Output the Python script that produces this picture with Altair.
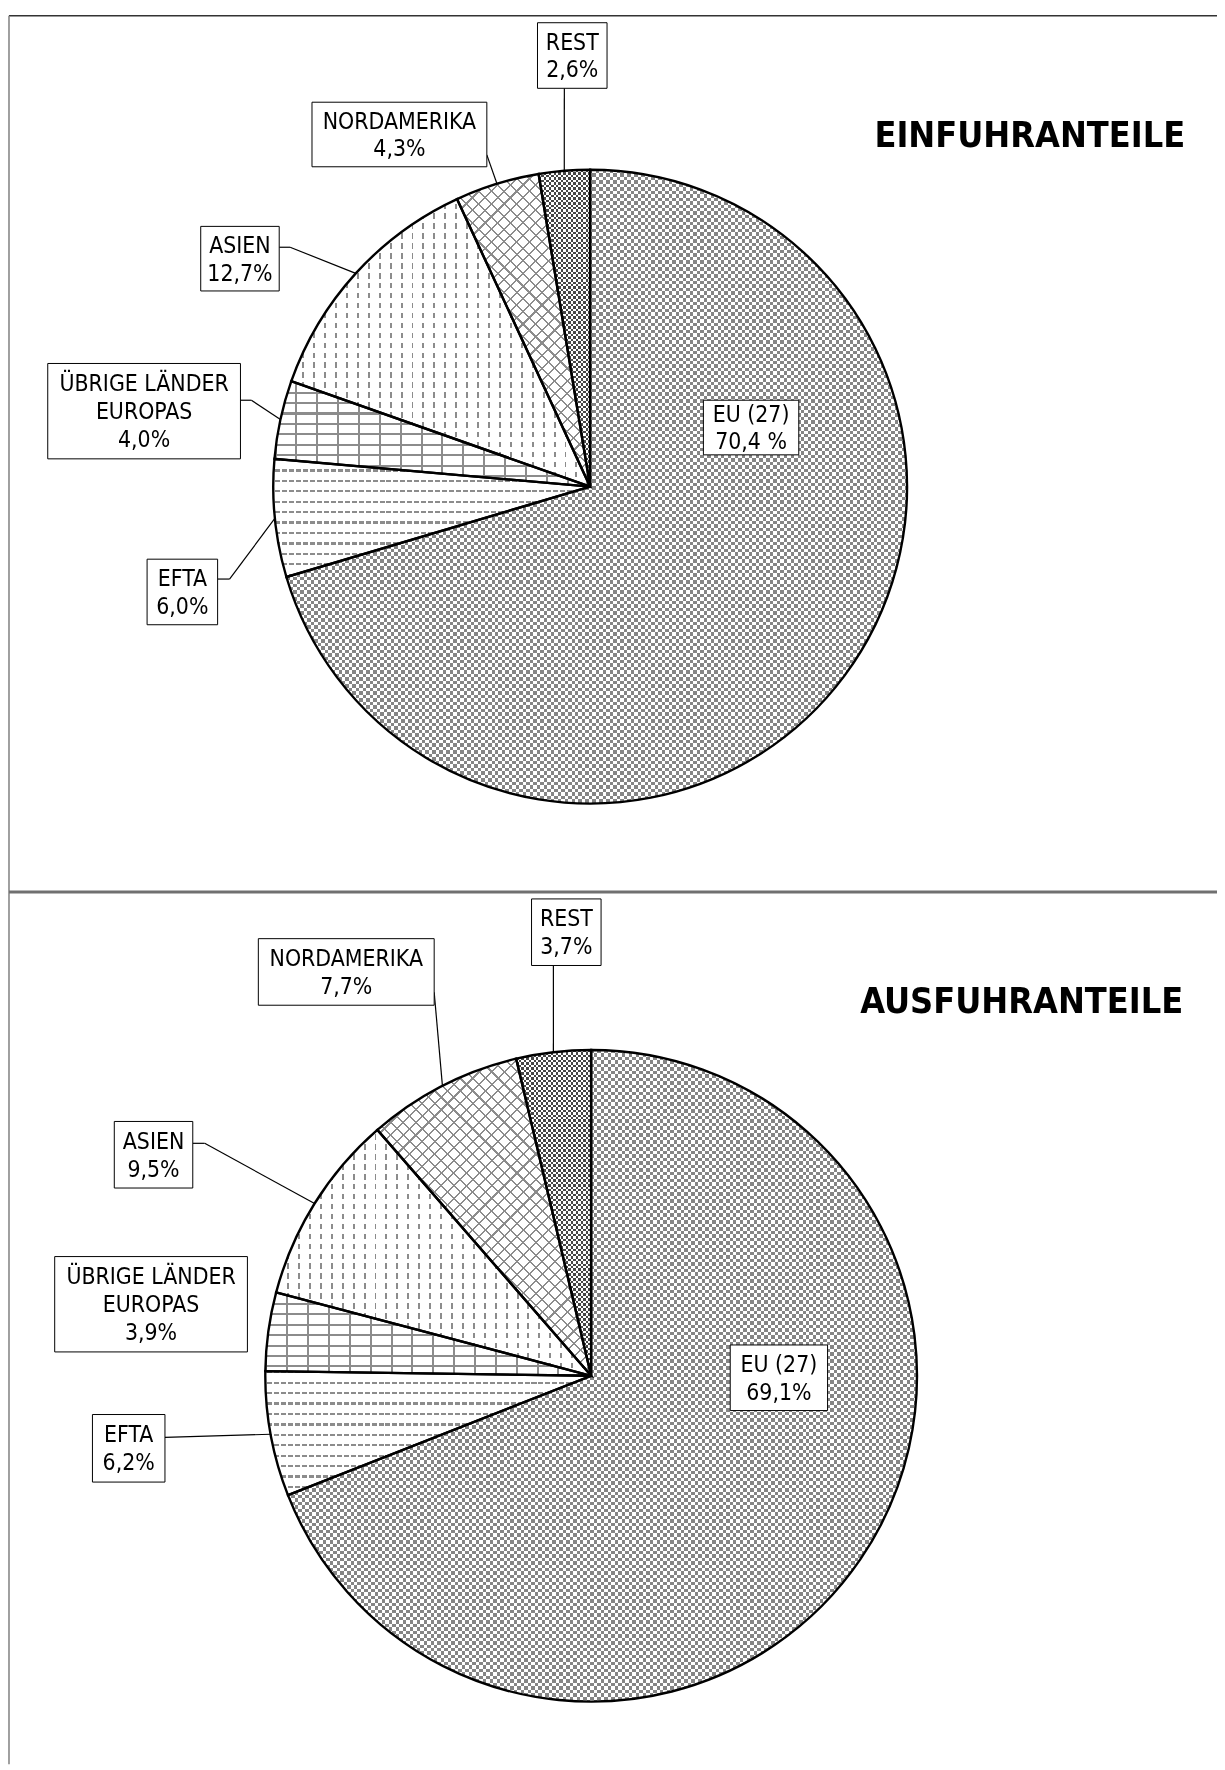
import math
import altair as alt
import pandas as pd

# ---------------- data ----------------
regions = ["EU (27)", "EFTA", "ÜBRIGE LÄNDER EUROPAS", "ASIEN", "NORDAMERIKA", "REST"]
label_names = ["EU (27)", "EFTA", "ÜBRIGE LÄNDER\nEUROPAS", "ASIEN", "NORDAMERIKA", "REST"]
einfuhr_values = [70.4, 6.0, 4.0, 12.7, 4.3, 2.6]
einfuhr_pct = ["70,4 %", "6,0%", "4,0%", "12,7%", "4,3%", "2,6%"]
ausfuhr_values = [69.1, 6.2, 3.9, 9.5, 7.7, 3.7]
ausfuhr_pct = ["69,1%", "6,2%", "3,9%", "9,5%", "7,7%", "3,7%"]
panel_titles = ["EINFUHRANTEILE", "AUSFUHRANTEILE"]

# ---------------- layout (pixels) ----------------
W_CHART, H_CHART = 1217, 1762
pie_top = (586, 476, 319)
pie_bottom = (587, 1371, 328)
boxes_top = [(700, 389, 796, 444), (140, 549, 211, 615), (40, 352, 234, 448),
             (194, 214, 273, 279), (306, 89, 482, 154), (533, 9, 603, 75)]
leaders_top = [None, (211, 569, 223, 569), (234, 389, 245, 389),
               (273, 235, 284, 235), (482, 142, 482, 142), (560, 75, 560, 75)]
boxes_bottom = [(727, 1340, 825, 1406), (85, 1410, 158, 1478), (47, 1251, 241, 1347),
                (107, 1115, 186, 1182), (252, 931, 429, 998), (527, 891, 597, 958)]
leaders_bottom = [None, (158, 1433, 158, 1433), None,
                  (186, 1137, 198, 1137), (429, 985, 429, 985), (549, 958, 549, 958)]
title_pos = [(1185, 134), (1183, 1006)]

FONT = "DejaVu Sans Condensed, Liberation Sans Narrow, DejaVu Sans, sans-serif"
LABEL_SIZE = 23
LINE_H = 28
GRAY = "#8c8c8c"
CLEAR = "rgba(255,255,255,0)"


# ---------------- pattern helpers ----------------
def slice_angles(values):
    total = sum(values)
    out, c = [], 0.0
    for v in values:
        a0 = c / total * 2 * math.pi
        c += v
        a1 = c / total * 2 * math.pi
        out.append((a0, a1))
    return out


def arc_bbox(a0, a1, r):
    pts = [(0.0, 0.0)]
    angs = [a0, a1] + [k * math.pi / 2 for k in range(5) if a0 < k * math.pi / 2 < a1]
    for a in angs:
        pts.append((r * math.sin(a), -r * math.cos(a)))
    xs = [p[0] for p in pts]
    ys = [p[1] for p in pts]
    return max(max(xs) - min(xs), 1.0), max(max(ys) - min(ys), 1.0)


def stripes(kind, bw, bh, period, duty, c_on, c_off):
    if kind == "v":
        span = bw
    elif kind == "h":
        span = bh
    else:
        span = (bw + bh) / math.sqrt(2)
    n = int(math.ceil(span / period)) + 1
    stops = []
    for i in range(n):
        a = round(i / n, 6)
        b = round((i + duty) / n, 6)
        c = round((i + 1) / n, 6)
        stops += [{"offset": a, "color": c_on}, {"offset": b, "color": c_on},
                  {"offset": b, "color": c_off}, {"offset": c, "color": c_off}]
    L = n * period
    if kind == "v":
        x1, y1, x2, y2 = 0, 0, L / bw, 0
    elif kind == "h":
        x1, y1, x2, y2 = 0, 0, 0, L / bh
    else:
        k = L * math.sqrt(2) / (bw ** 2 + bh ** 2)
        if kind == "d1":
            x1, y1, x2, y2 = 0, 0, k * bw, k * bh
        else:
            x1, y1, x2, y2 = 0, 1, k * bw, 1 - k * bh
    return {"gradient": "linear", "x1": x1, "y1": y1, "x2": x2, "y2": y2, "stops": stops}


def pattern_specs(idx, bw, bh):
    """list of (fill, blend) layers for slice idx"""
    if idx == 0:   # EU: fine checkerboard
        d = "#7a7a7a"
        return [(stripes("v", bw, bh, 7, 0.5, "#000000", d), None),
                (stripes("h", bw, bh, 7, 0.5, "#000000", d), "difference"),
                ("#ffffff", "difference")]
    if idx == 5:   # REST: dark small checker
        d = "#b9b9b9"
        return [(stripes("v", bw, bh, 5, 0.5, "#000000", d), None),
                (stripes("h", bw, bh, 5, 0.5, "#000000", d), "difference"),
                ("#ffffff", "difference")]
    if idx == 1:   # EFTA: waves
        return [(stripes("h", bw, bh, 10.5, 0.22, GRAY, CLEAR), None),
                (stripes("v", bw, bh, 7, 0.28, "#ffffff", CLEAR), None)]
    if idx == 2:   # brick
        return [(stripes("h", bw, bh, 10.5, 0.2, GRAY, CLEAR), None),
                (stripes("v", bw, bh, 21, 0.1, GRAY, CLEAR), None)]
    if idx == 3:   # vertical dashes
        return [(stripes("v", bw, bh, 11, 0.18, GRAY, CLEAR), None),
                (stripes("h", bw, bh, 10, 0.45, "#ffffff", CLEAR), None)]
    # idx == 4: diagonal crosshatch
    return [(stripes("d1", bw, bh, 9, 0.17, GRAY, CLEAR), None),
            (stripes("d2", bw, bh, 9, 0.17, GRAY, CLEAR), None)]


# ---------------- layers ----------------
def arc_enc(cx, cy):
    return dict(theta=alt.Theta("value:Q", stack=True, scale=alt.Scale(nice=False)),
                order=alt.Order("idx:Q"), detail="cat:N",
                x=alt.value(cx), y=alt.value(cy))


def panel_layers(values, pcts, geom, boxes, leaders, title, tpos):
    cx, cy, r = geom
    rows = []
    for i, (cat, v) in enumerate(zip(regions, values)):
        b = boxes[i]
        ld = leaders[i]
        label = label_names[i] + "\n" + pcts[i]
        nlines = label.count("\n") + 1
        rows.append(dict(cat=cat, value=v, idx=i, label=label,
                         x0=b[0], y0=b[1], x1=b[2], y1=b[3],
                         tx=(b[0] + b[2]) / 2,
                         ty=(b[1] + b[3]) / 2 - (nlines - 1) * LINE_H / 2 + 1,
                         has_leader=ld is not None,
                         ax=ld[0] if ld else 0, ay=ld[1] if ld else 0,
                         bx=ld[2] if ld else 0, by=ld[3] if ld else 0))
    df = pd.DataFrame(rows)
    layers = []
    # white base
    layers.append(alt.Chart(df).mark_arc(radius=r, fill="#ffffff", strokeWidth=0).encode(**arc_enc(cx, cy)))
    # patterns
    angs = slice_angles(values)
    for i in range(len(values)):
        bw, bh = arc_bbox(angs[i][0], angs[i][1], r)
        for fill, blend in pattern_specs(i, bw, bh):
            kw = dict(radius=r, fill=fill, strokeWidth=0)
            if blend:
                kw["blend"] = blend
            enc = arc_enc(cx, cy)
            enc["fillOpacity"] = alt.condition(f"datum.idx == {i}", alt.value(1), alt.value(0))
            layers.append(alt.Chart(df).mark_arc(**kw).encode(**enc))
    # outlines
    layers.append(alt.Chart(df).mark_arc(radius=r, fill="#ffffff", fillOpacity=0,
                                         stroke="#000000", strokeWidth=2.4,
                                         strokeJoin="miter").encode(**arc_enc(cx, cy)))
    # leader lines
    base = (alt.Chart(df)
            .transform_joinaggregate(total="sum(value)")
            .transform_window(cum="sum(value)", sort=[alt.SortField("idx", order="ascending")],
                              frame=[None, 0])
            .transform_filter("datum.has_leader")
            .transform_calculate(mid="(datum.cum - datum.value / 2) / datum.total * 2 * PI")
            .transform_calculate(ex=f"{cx} + {r} * sin(datum.mid)",
                                 ey=f"{cy} - {r} * cos(datum.mid)"))
    layers.append(base.mark_rule(color="#000000", strokeWidth=1.2).encode(
        x=alt.X("ax:Q", scale=None, axis=None), y=alt.Y("ay:Q", scale=None, axis=None),
        x2="bx:Q", y2="by:Q"))
    layers.append(base.mark_rule(color="#000000", strokeWidth=1.2).encode(
        x=alt.X("bx:Q", scale=None, axis=None), y=alt.Y("by:Q", scale=None, axis=None),
        x2="ex:Q", y2="ey:Q"))
    # label boxes
    layers.append(alt.Chart(df).mark_rect(fill="#ffffff", stroke="#000000", strokeWidth=1).encode(
        x=alt.X("x0:Q", scale=None, axis=None), x2="x1:Q",
        y=alt.Y("y0:Q", scale=None, axis=None), y2="y1:Q"))
    layers.append(alt.Chart(df).mark_text(font=FONT, fontSize=LABEL_SIZE, lineHeight=LINE_H,
                                          lineBreak="\n", align="center", baseline="middle",
                                          color="#000000").encode(
        x=alt.X("tx:Q", scale=None, axis=None), y=alt.Y("ty:Q", scale=None, axis=None),
        text="label:N"))
    # title
    layers.append(alt.Chart(pd.DataFrame({"t": [title]})).mark_text(
        font=FONT, fontSize=36, fontWeight="bold", align="right", baseline="alphabetic",
        color="#000000").encode(text="t:N", x=alt.value(tpos[0]), y=alt.value(tpos[1])))
    return layers


frame_df = pd.DataFrame({"k": [0]})
frame = [
    alt.Chart(frame_df).mark_rule(color="#333333", strokeWidth=1.5).encode(
        x=alt.value(1), x2=alt.value(W_CHART), y=alt.value(2)),
    alt.Chart(frame_df).mark_rule(color="#808080", strokeWidth=1.5).encode(
        x=alt.value(1), y=alt.value(2), y2=alt.value(H_CHART)),
    alt.Chart(frame_df).mark_rule(color="#707070", strokeWidth=3).encode(
        x=alt.value(1), x2=alt.value(W_CHART), y=alt.value(884)),
]

layers = frame
layers += panel_layers(einfuhr_values, einfuhr_pct, pie_top, boxes_top, leaders_top,
                       panel_titles[0], title_pos[0])
layers += panel_layers(ausfuhr_values, ausfuhr_pct, pie_bottom, boxes_bottom, leaders_bottom,
                       panel_titles[1], title_pos[1])

chart = (alt.layer(*layers)
         .resolve_scale(theta="independent")
         .properties(width=W_CHART, height=H_CHART, padding=0, autosize="none",
                     background="#ffffff")
         .configure_view(stroke=None))

chart.save("out.html", embed_options={"renderer": "svg", "actions": False})
